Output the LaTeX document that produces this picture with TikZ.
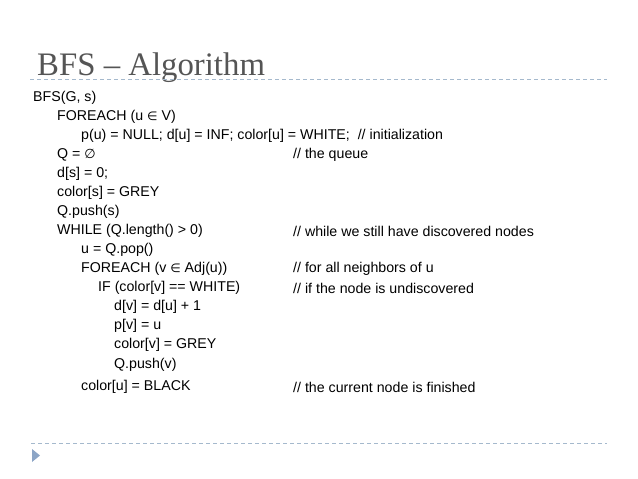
\documentclass[tikz,border=0pt]{standalone}
\usepackage{fontspec}
\setmainfont{Liberation Sans}
\newfontfamily\titlefont{Liberation Serif}
\newfontfamily\djv{DejaVu Sans}
\newcommand{\elemof}{{\djv\fontsize{12}{12}\selectfont ∈}}
\newcommand{\emptyq}{{\djv\fontsize{13}{13}\selectfont ∅}}
\definecolor{titlegray}{RGB}{85,85,85}
\definecolor{dashblue}{RGB}{165,185,205}
\definecolor{triblue}{RGB}{140,165,198}
\begin{document}
\begin{tikzpicture}[x=1pt,y=1pt,
  code/.style={anchor=west,inner sep=0pt,font=\fontsize{14.2}{16}\selectfont},
  rule/.style={dashblue,dashed,dash pattern=on 4pt off 3pt,line width=0.8pt}]
\useasboundingbox (0,0) rectangle (638,-479);
\node[anchor=base west,inner sep=0pt,text=titlegray,font=\titlefont\fontsize{32.8}{34}\selectfont] (title) at (37,-75) {BFS – Algorithm};
\coordinate (t1) at (30,-79); \coordinate (t2) at (607,-79);
\draw[rule] (t1) -- (t2);
\coordinate (b1) at (31,-443); \coordinate (b2) at (607,-443);
\draw[rule] (b1) -- (b2);
\fill[triblue] (32,-449) -- (40,-455.5) -- (32,-462) -- cycle;
\node[code] (l1) at (33,-98) {BFS(G, s)};
\node[code] (l2) at (57,-117) {FOREACH (u \elemof{} V)};
\node[code] (l3) at (81,-136) {p(u) = NULL; d[u] = INF; color[u] = WHITE;\ \ // initialization};
\node[code] (l4) at (57,-155) {Q = \emptyq};
\node[code] (c4) at (293,-155) {// the queue};
\node[code] (l5) at (57,-174) {d[s] = 0;};
\node[code] (l6) at (57,-193) {color[s] = GREY};
\node[code] (l7) at (57,-212) {Q.push(s)};
\node[code] (l8) at (57,-231) {WHILE (Q.length() > 0)};
\node[code] (c8) at (293,-231) {// while we still have discovered nodes};
\node[code] (l9) at (81,-250) {u = Q.pop()};
\node[code] (l10) at (81,-269) {FOREACH (v \elemof{} Adj(u))};
\node[code] (c10) at (293,-269) {// for all neighbors of u};
\node[code] (l11) at (98,-288) {IF (color[v] == WHITE)};
\node[code] (c11) at (293,-288) {// if the node is undiscovered};
\node[code] (l12) at (114,-307) {d[v] = d[u] + 1};
\node[code] (l13) at (114,-326) {p[v] = u};
\node[code] (l14) at (114,-345) {color[v] = GREY};
\node[code] (l15) at (114,-365) {Q.push(v)};
\node[code] (l16) at (81,-387) {color[u] = BLACK};
\node[code] (c16) at (293,-387) {// the current node is finished};
\end{tikzpicture}
\end{document}
